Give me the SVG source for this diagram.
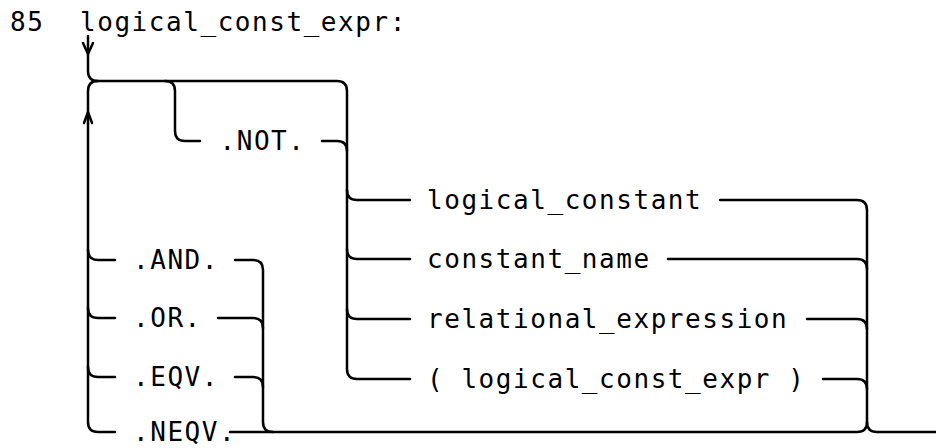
<svg xmlns="http://www.w3.org/2000/svg" width="936" height="448" viewBox="0 0 936 448">
<style>
.t{font-family:"DejaVu Sans Mono","Liberation Mono",monospace;font-size:26px;letter-spacing:1.55px;fill:#000}
.c{fill:none;stroke:#000;stroke-width:2.5;stroke-linecap:round;stroke-linejoin:round}
</style>
<rect width="936" height="448" fill="#fff"/>
<g id="title">
<text class="t" x="10" y="31">85</text>
<text class="t" x="80" y="31">logical_const_expr:</text>
</g>
<g id="connectors" class="c">
<path d="M88,36 V71 Q88,81 98,81 H337 Q347,81 347,91 V369 Q347,379 357,379 H410"/>
<path d="M83,43 L88,54 L93,43"/>
<path d="M98,81 Q88,81 88,91 V422 Q88,432 98,432 H115"/>
<path d="M84,123 L88,112 L92,123"/>
<path d="M88,250 Q88,260 98,260 H115"/>
<path d="M88,308 Q88,318 98,318 H115"/>
<path d="M88,367 Q88,377 98,377 H115"/>
<path d="M165,81 Q175,81 175,91 V131 Q175,141 185,141 H200"/>
<path d="M322,141 H337 Q347,141 347,151"/>
<path d="M347,190 Q347,200 357,200 H410"/>
<path d="M347,249 Q347,259 357,259 H410"/>
<path d="M347,309 Q347,319 357,319 H410"/>
<path d="M235,260 H253 Q263,260 263,270 V422 Q263,432 273,432"/>
<path d="M218,318 H253 Q263,318 263,328"/>
<path d="M235,377 H253 Q263,377 263,387"/>
<path d="M230,432 H857 Q867,432 867,422"/>
<path d="M720,200 H857 Q867,200 867,210 V422 Q867,432 877,432 H936"/>
<path d="M668,259 H857 Q867,259 867,269"/>
<path d="M807,319 H857 Q867,319 867,329"/>
<path d="M823,379 H857 Q867,379 867,389"/>
</g>
<g id="node-not"><text class="t" x="219.5" y="150">.NOT.</text></g>
<g id="node-and"><text class="t" x="133" y="269">.AND.</text></g>
<g id="node-or"><text class="t" x="133" y="327">.OR.</text></g>
<g id="node-eqv"><text class="t" x="133" y="386">.EQV.</text></g>
<g id="node-neqv"><text class="t" x="133" y="441">.NEQV.</text></g>
<g id="node-logical-constant"><text class="t" x="427" y="209">logical_constant</text></g>
<g id="node-constant-name"><text class="t" x="427" y="268">constant_name</text></g>
<g id="node-relational-expression"><text class="t" x="427" y="328">relational_expression</text></g>
<g id="node-paren-expr"><text class="t" x="427" y="388">( logical_const_expr )</text></g>
</svg>
